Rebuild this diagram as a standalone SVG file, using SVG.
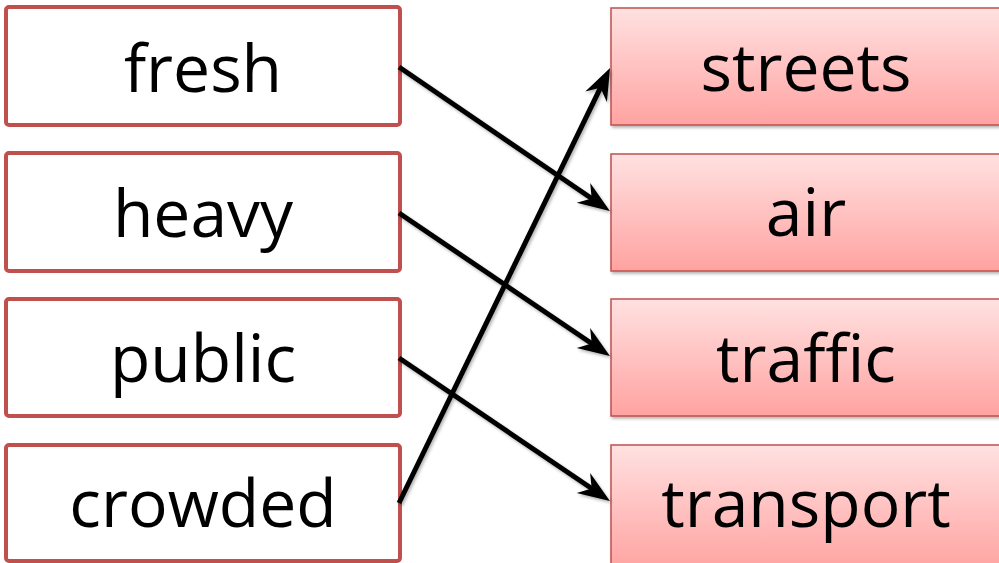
<svg xmlns="http://www.w3.org/2000/svg" width="999" height="563" viewBox="0 0 999 563">
  <defs>
    <linearGradient id="pink" x1="0" y1="0" x2="0" y2="1">
      <stop offset="0" stop-color="#ffe1e1"/>
      <stop offset="1" stop-color="#ffa3a1"/>
    </linearGradient>
    <filter id="shadow" x="-10%" y="-10%" width="130%" height="130%">
      <feDropShadow dx="1.5" dy="2" stdDeviation="1.5" flood-color="#000" flood-opacity="0.3"/>
    </filter>
    <marker id="head" markerUnits="userSpaceOnUse" markerWidth="60" markerHeight="30" viewBox="-30 -15 60 30" refX="0" refY="0" orient="auto" overflow="visible">
      <path d="M18,0 L-14,-12 L-4,0 L-14,12 Z" fill="#000"/>
    </marker>
    <style>
      .left rect { fill: #ffffff; stroke: #c0504d; stroke-width: 4; }
      .right rect { fill: url(#pink); stroke: #c0504d; stroke-width: 1.5; filter: url(#shadow); }
      text { font-family: "Open Sans", "DejaVu Sans", sans-serif; font-size: 66px; fill: #000; text-anchor: middle; }
      .conn line { stroke: #000; stroke-width: 5; marker-end: url(#head); }
    </style>
  </defs>

  <g id="node-fresh" class="left">
    <rect x="6" y="7" width="394" height="118" rx="3"/>
    <text x="203" y="92">fresh</text>
  </g>
  <g id="node-heavy" class="left">
    <rect x="6" y="153" width="394" height="118" rx="3"/>
    <text x="203" y="237">heavy</text>
  </g>
  <g id="node-public" class="left">
    <rect x="6" y="299" width="394" height="117" rx="3"/>
    <text x="203" y="382">public</text>
  </g>
  <g id="node-crowded" class="left">
    <rect x="6" y="445" width="394" height="116" rx="3"/>
    <text x="203" y="527">crowded</text>
  </g>

  <g id="node-streets" class="right">
    <rect x="611" y="8" width="392" height="117"/>
    <text x="806" y="91">streets</text>
  </g>
  <g id="node-air" class="right">
    <rect x="611" y="154" width="392" height="117"/>
    <text x="806" y="236">air</text>
  </g>
  <g id="node-traffic" class="right">
    <rect x="611" y="299" width="392" height="117"/>
    <text x="806" y="382">traffic</text>
  </g>
  <g id="node-transport" class="right">
    <rect x="611" y="445" width="392" height="125"/>
    <text x="806" y="527">transport</text>
  </g>

  <g id="connectors" class="conn" filter="url(#shadow)">
    <line x1="399" y1="67" x2="595" y2="200.8"/>
    <line x1="399" y1="213" x2="595" y2="345.8"/>
    <line x1="399" y1="358" x2="595" y2="490.8"/>
    <line x1="399" y1="503" x2="602.2" y2="84.2"/>
  </g>
</svg>
